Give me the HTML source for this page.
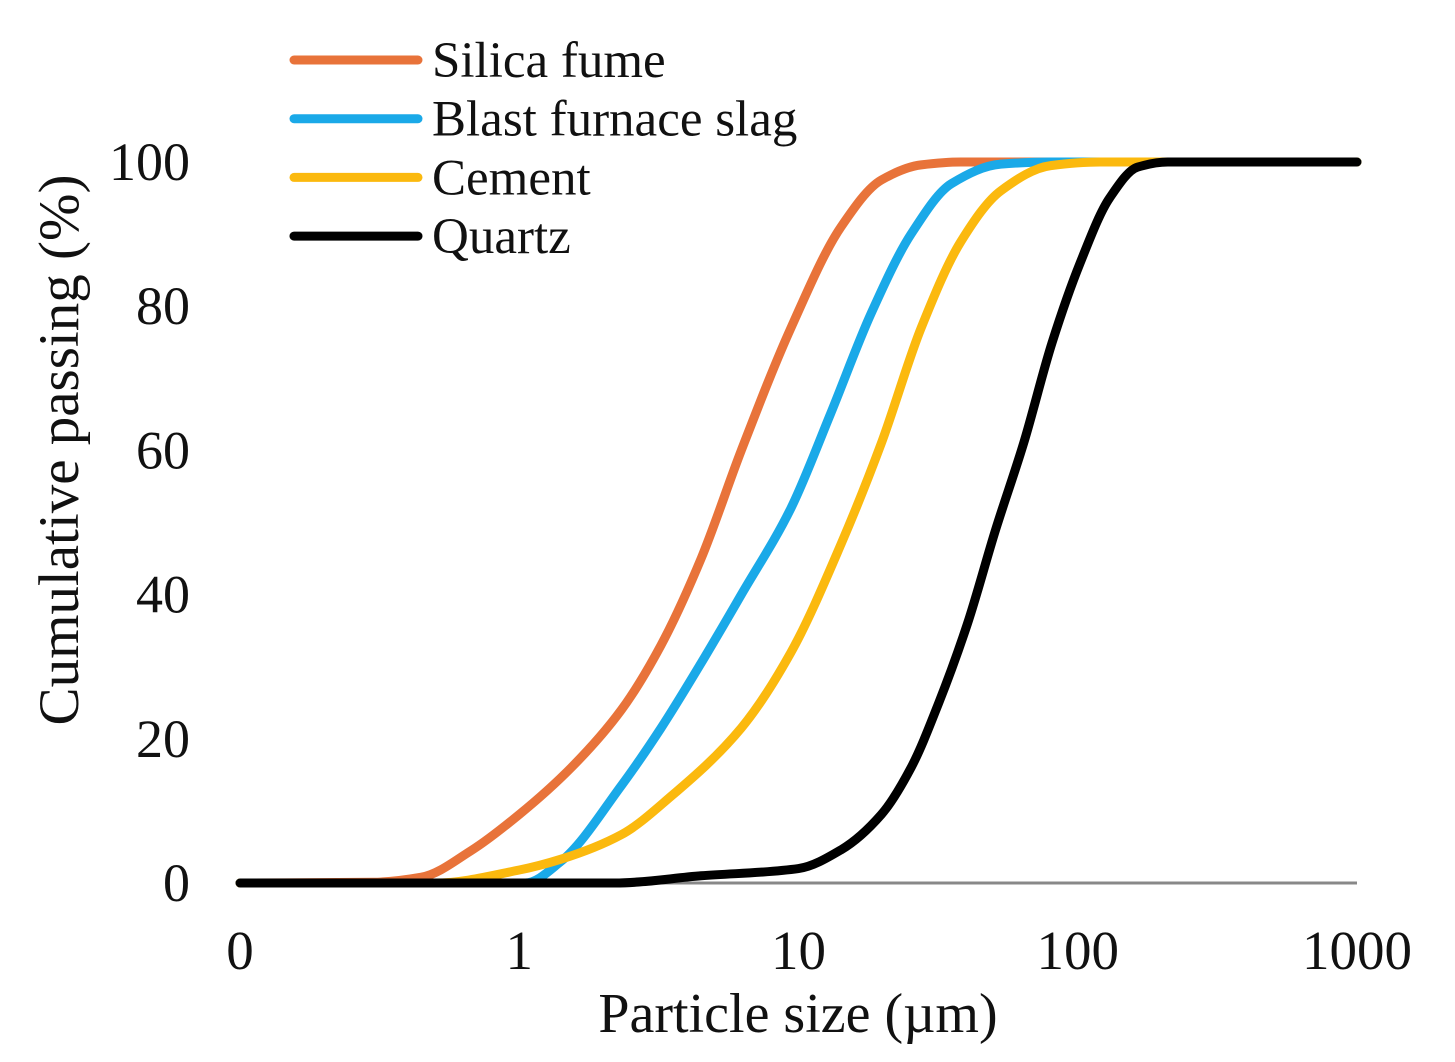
<!DOCTYPE html>
<html><head><meta charset="utf-8"><style>
html,body{margin:0;padding:0;background:#fff;}
svg{display:block;font-family:"Liberation Serif",serif;}
</style></head><body>
<svg id="chart" width="1455" height="1062" viewBox="0 0 1455 1062"></svg>
<script>
const xTickVals=[0.1,1,10,100,1000];
const xTickLabels=["0","1","10","100","1000"];
const yTickVals=[0,20,40,60,80,100];
const seriesNames=["Silica fume","Blast furnace slag","Cement","Quartz"];
const seriesColors=["#e8733a","#1aa9e8","#fbb90e","#000000"];
const silicaX=[0.1,0.3,0.446,0.673,1.0,1.535,2.32,3.22,4.48,6.24,9.4,14.2,19.8,27.5,38.2,1000];
const silicaY=[0,0.1,0.8,4.5,9.5,16,24,33,45,60,77,91,97.5,99.6,100,100];
const slagX=[0.1,1.05,1.41,2.32,3.22,4.48,6.24,9.4,13.0,18.2,25.3,35.3,53,80,1000];
const slagY=[0,0,3,13.5,21.5,30.5,40,52,65,79,90,97,99.7,100,100];
const cementX=[0.1,0.5,1.0,1.41,2.32,3.49,6.24,9.4,14.2,19.8,27.5,38.2,53,80,120,1000];
const cementY=[0,0,1.8,3.3,6.7,12,21.5,32,47,61,77,89,96,99.5,100,100];
const quartzX=[0.1,2.2,4.48,10,14.2,19.8,25.3,31.8,40.3,50.8,64,81,102,130,164,210,1000];
const quartzY=[0,0,1,2,4.6,9.5,16,25,36,49,61,75,86,95,99.3,100,100];
const seriesX=[silicaX,slagX,cementX,quartzX];
const seriesY=[silicaY,slagY,cementY,quartzY];

const X0=240,X1=1357,Y0=883,Y1=162;
const xs=v=>X0+(Math.log10(v)+1)/4*(X1-X0);
const ys=v=>Y0-(v/100)*(Y0-Y1);
const svg=document.getElementById('chart');
const NS='http://www.w3.org/2000/svg';
function mk(tag,attrs,parent){const e=document.createElementNS(NS,tag);for(const k in attrs)e.setAttribute(k,attrs[k]);(parent||svg).appendChild(e);return e;}

const axis=mk('line',{x1:X0,y1:Y0,x2:X1,y2:Y0,stroke:'#888',"stroke-width":3});



yTickVals.forEach(v=>{
  const t=mk('text',{x:190,y:ys(v)+18,"text-anchor":"end","font-size":54,fill:'#111'});
  t.textContent=v;
  
  
});
xTickVals.forEach((v,i)=>{
  const t=mk('text',{x:xs(v),y:969,"text-anchor":"middle","font-size":55,fill:'#111'});
  t.textContent=xTickLabels[i];
  
  
});
const xt=mk('text',{x:798,y:1032,"text-anchor":"middle","font-size":56,fill:'#111'});
xt.textContent='Particle size (µm)';


const yt=mk('text',{x:0,y:0,"text-anchor":"middle","font-size":57,fill:'#111',transform:'translate(78,450) rotate(-90)'});
yt.textContent='Cumulative passing (%)';



function pathFor(X,Y){
  const p=X.map((x,i)=>[xs(x),ys(Y[i])]);
  const n=p.length,d=[],m=new Array(n);
  for(let i=0;i<n-1;i++)d.push((p[i+1][1]-p[i][1])/(p[i+1][0]-p[i][0]));
  m[0]=d[0];m[n-1]=d[n-2];
  for(let i=1;i<n-1;i++){
    if(d[i-1]*d[i]<=0)m[i]=0;
    else{const h0=p[i][0]-p[i-1][0],h1=p[i+1][0]-p[i][0];
      m[i]=3*(h0+h1)/((2*h1+h0)/d[i-1]+(h1+2*h0)/d[i]);}
  }
  let s='M'+p[0][0]+','+p[0][1];
  for(let i=0;i<n-1;i++){
    const h=(p[i+1][0]-p[i][0])/3;
    s+=' C'+(p[i][0]+h)+','+(p[i][1]+m[i]*h)+' '+(p[i+1][0]-h)+','+(p[i+1][1]-m[i+1]*h)+' '+p[i+1][0]+','+p[i+1][1];
  }
  return s;
}
const names=['silica-fume-line','blast-furnace-slag-line','cement-line','quartz-line'];
seriesNames.forEach((n,i)=>{
  const p=mk('path',{d:pathFor(seriesX[i],seriesY[i]),fill:'none',stroke:seriesColors[i],"stroke-width":9,"stroke-linejoin":"round","stroke-linecap":"round"});
  
  
});
seriesNames.forEach((n,i)=>{
  const y=60+i*58.7;
  const l=mk('line',{x1:294,y1:y,x2:418,y2:y,stroke:seriesColors[i],"stroke-width":9,"stroke-linecap":"round"});
  
  
  const t=mk('text',{x:432,y:y+17,"font-size":51,fill:'#111'});
  t.textContent=n;
  
  
});
</script>
</body></html>
